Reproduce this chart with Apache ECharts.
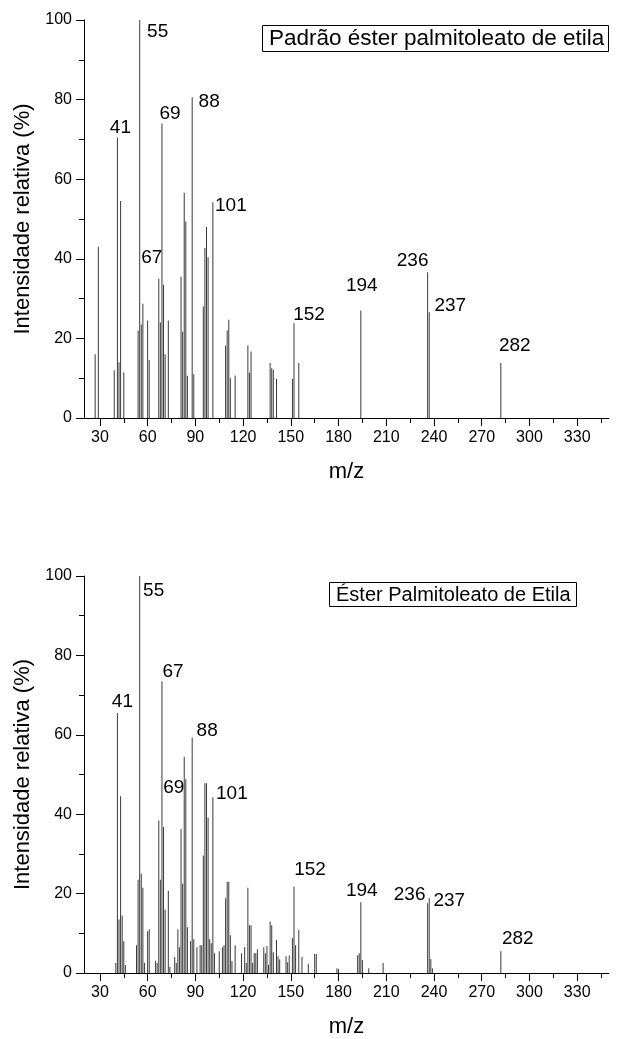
<!DOCTYPE html>
<html>
<head>
<meta charset="utf-8">
<script src="https://cdn.jsdelivr.net/npm/echarts@6/dist/echarts.min.js"></script>
<style>
  html, body { margin: 0; padding: 0; background: #fff; }
  #chart { width: 622px; height: 1039px; }
</style>
</head>
<body>
<div id="chart"></div>
<script>
// ---- data ----
// upper spectrum: standard
const topMz  = [27, 29, 39, 41, 42, 43, 45, 54, 55, 56, 57, 60, 61, 67, 68, 69, 70, 71, 73,
                81, 82, 83, 84, 85, 88, 89, 95, 96, 97, 98, 101, 109, 110, 111, 112, 115,
                123, 124, 125, 137, 138, 139, 141, 151, 152, 155, 194, 236, 237, 282];
const topInt = [16, 43, 12, 70.5, 14, 54.5, 11.5, 22, 100, 23.5, 28.7, 24.5, 14.6, 35, 24, 74, 33.5, 16, 24.5,
                35.5, 21.7, 56.6, 49.4, 10.6, 80.6, 11, 28, 42.7, 48, 40.4, 54.2, 18.2, 22, 24.7, 10, 10.7,
                18.2, 11.4, 16.7, 13.8, 12.5, 12.1, 9.8, 9.8, 23.8, 13.8, 27, 36.6, 26.6, 13.8];

// lower spectrum: sample
const bottomMz  = [40, 41, 42, 43, 44, 45, 46, 53, 54, 55, 56, 57, 58, 60, 61, 65, 66, 67, 68, 69, 70, 71, 73, 74,
                   77, 78, 79, 80, 81, 82, 83, 84, 85, 87, 88, 89, 91, 93, 94, 95, 96, 97, 98, 99, 100, 101, 102,
                   105, 107, 108, 109, 110, 111, 112, 113, 115, 119, 121, 122, 123, 124, 125, 126, 127, 128, 129,
                   133, 134, 135, 136, 137, 138, 139, 141, 142, 143, 147, 148, 149, 151, 152, 153, 155, 157, 161,
                   165, 166, 179, 180, 192, 193, 194, 195, 199, 208, 236, 237, 238, 239, 282];
const bottomInt = [2.5, 65.5, 13.5, 44.5, 14.5, 8, 2, 7, 23.5, 100, 25, 21.5, 2.5, 10.5, 11, 3, 2.5, 38.4, 23.5, 73.5, 36.8, 16, 20.7, 1.5,
                   4, 2.5, 11, 6.5, 36.3, 22.5, 54.5, 48.8, 11.5, 8, 59.3, 8.5, 6.5, 7, 7, 29.6, 47.8, 47.8, 39.2, 8.5, 7.5, 44.3, 5,
                   5.5, 6.5, 7, 18.8, 23, 23, 9.5, 3, 7, 5, 6.5, 2.5, 21.5, 12, 12, 2.5, 5, 5, 6,
                   6.5, 5, 6.8, 2, 13, 12, 5.2, 8.3, 4.2, 3.4, 4.2, 2.7, 4.4, 8.8, 21.8, 7, 10.8, 4, 2.3,
                   4.8, 4.8, 1.2, 1, 4.5, 5, 17.8, 3.3, 1.2, 2.5, 17.6, 18.9, 3.5, 1.2, 5.5];

// peak annotations: text and the peak (m/z) each one sits on
const topLabels     = ['41', '55', '67', '69', '88', '101', '152', '194', '236', '237', '282'];
const topLabelPeaks = [41, 55, 67, 69, 88, 101, 152, 194, 236, 237, 282];
const bottomLabels     = ['41', '55', '67', '69', '88', '101', '152', '194', '236', '237', '282'];
const bottomLabelPeaks = [41, 55, 69, 67, 88, 101, 152, 194, 236, 237, 282];

const xMajorTicks = [30, 60, 90, 120, 150, 180, 210, 240, 270, 300, 330];
const xMinorTicks = [45, 75, 105, 135, 165, 195, 225, 255, 285, 315, 345];
const legendTexts = ['Padrão éster palmitoleato de etila', 'Éster Palmitoleato de Etila'];

// ---- layout / style ----
const FONT = "'Liberation Sans', Arial, sans-serif";
// pixel nudges for the annotation texts
const topLabelOffsets = [[3, -10], [18, 12], [-7, -21], [8, -10], [17, 5], [18, 3],
                         [15, -9], [1, -25], [-15, -12], [21, -6], [14, -17]];
const bottomLabelOffsets = [[5, -11], [14, 15], [11, -9], [15, -33], [15, -7], [19, -3],
                            [16, -17], [1, -12], [-18, -8], [20, 3], [17, -12]];

const grids = [
  { left: 84, top: 20, width: 525, height: 398 },
  { left: 84, top: 576, width: 525, height: 399 }
];

function pairs(xs, ys) {
  return xs.map((x, i) => [x, ys[i]]);
}

function labelData(texts, peaks, mz, inten, offs) {
  return texts.map((t, i) => {
    const k = mz.indexOf(peaks[i]);
    return { value: [peaks[i], inten[k]], name: t, label: { offset: offs[i] } };
  });
}

const xAxes = [];
const yAxes = [];
grids.forEach((g, gi) => {
  xAxes.push({
    type: 'value', gridIndex: gi, min: 20, max: 350, position: 'bottom',
    name: 'm/z', nameLocation: 'middle', nameGap: 43,
    nameTextStyle: { fontSize: 22, color: '#000', fontFamily: FONT },
    axisLine: { show: true, lineStyle: { color: '#000', width: 1 } },
    axisTick: { show: true, length: 8, customValues: xMajorTicks, lineStyle: { color: '#000' } },
    axisLabel: { show: true, customValues: xMajorTicks, fontSize: 16, margin: 12, color: '#000', fontFamily: FONT },
    splitLine: { show: false }
  });
  // minor ticks only
  xAxes.push({
    type: 'value', gridIndex: gi, min: 20, max: 350, position: 'bottom',
    axisLine: { show: false },
    axisTick: { show: true, length: 5, customValues: xMinorTicks, lineStyle: { color: '#000' } },
    axisLabel: { show: false },
    splitLine: { show: false }
  });
  yAxes.push({
    type: 'value', gridIndex: gi, min: 0, max: 100, interval: 20,
    name: 'Intensidade relativa (%)', nameLocation: 'middle', nameGap: 48,
    nameTextStyle: { fontSize: 22, color: '#000', fontFamily: FONT },
    axisLine: { show: true, lineStyle: { color: '#000', width: 1 } },
    axisTick: { show: true, length: 8, lineStyle: { color: '#000' } },
    minorTick: { show: true, splitNumber: 2, length: 5, lineStyle: { color: '#000' } },
    axisLabel: { fontSize: 16, margin: 12, color: '#000', fontFamily: FONT },
    splitLine: { show: false },
    minorSplitLine: { show: false }
  });
});

const labelStyle = {
  show: true, position: 'inside', formatter: p => p.name,
  fontSize: 19, color: '#000', fontFamily: FONT, align: 'center', verticalAlign: 'middle'
};

const option = {
  animation: false,
  backgroundColor: '#fff',
  title: legendTexts.map((t, i) => ({
    text: t,
    left: i === 0 ? 262 : 329,
    top: i === 0 ? 25 : 582,
    borderColor: '#000', borderWidth: 1,
    padding: i === 0 ? [2, 5, 2, 7] : [3, 6, 2, 7],
    textStyle: { fontSize: i === 0 ? 22.5 : 20, fontWeight: 'normal', color: '#000', fontFamily: FONT }
  })),
  grid: grids,
  xAxis: xAxes,
  yAxis: yAxes,
  series: [
    {
      type: 'bar', name: 'padrao', xAxisIndex: 0, yAxisIndex: 0,
      data: pairs(topMz, topInt), barWidth: 1, barGap: '-100%',
      itemStyle: { color: '#3a3a3a' }, silent: true
    },
    {
      type: 'bar', name: 'amostra', xAxisIndex: 2, yAxisIndex: 1,
      data: pairs(bottomMz, bottomInt), barWidth: 1, barGap: '-100%',
      itemStyle: { color: '#3a3a3a' }, silent: true
    },
    {
      type: 'scatter', xAxisIndex: 0, yAxisIndex: 0, symbolSize: 0,
      itemStyle: { opacity: 1 },
      data: labelData(topLabels, topLabelPeaks, topMz, topInt, topLabelOffsets),
      label: labelStyle, silent: true
    },
    {
      type: 'scatter', xAxisIndex: 2, yAxisIndex: 1, symbolSize: 0,
      itemStyle: { opacity: 1 },
      data: labelData(bottomLabels, bottomLabelPeaks, bottomMz, bottomInt, bottomLabelOffsets),
      label: labelStyle, silent: true
    }
  ]
};

const myChart = echarts.init(document.getElementById('chart'), null, { renderer: 'canvas' });
myChart.setOption(option);
</script>
</body>
</html>
